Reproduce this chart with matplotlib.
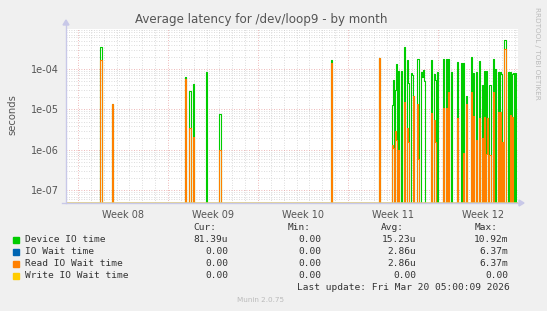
import numpy as np
import matplotlib
matplotlib.use("Agg")
import matplotlib.pyplot as plt
from matplotlib.patches import Rectangle

W, H = 547, 311

# days since Monday of week 08 (Feb 16 2026)
spike_day = [1.79, 2.75, 8.40, 8.71, 8.92, 9.96, 11.01, 19.68, 23.50,
             24.45, 24.58, 24.71, 24.83, 24.97, 25.10, 25.38, 25.61, 25.72,
             25.92, 26.02, 26.16, 26.39, 26.50, 26.68, 26.81, 26.88, 26.99,
             27.48, 27.71, 27.82, 27.95, 28.49, 28.60, 28.80, 29.01, 29.56,
             29.81, 29.94, 30.20, 30.61, 30.78, 30.93, 31.19, 31.42, 31.66,
             31.79, 31.89, 32.02, 32.28, 32.49, 32.69, 32.84, 33.00, 33.07,
             33.23, 33.47, 33.65, 33.78, 33.91, 34.02]
device_io = [3.4e-4, 1.4e-5, 6.3e-5, 2.9e-5, 4.2e-5, 8.3e-5, 7.6e-6, 1.7e-4, 1.9e-4,
             1.3e-5, 5.3e-5, 3.0e-5, 1.3e-4, 9e-5, 9e-5, 3.5e-4, 1.7e-4, 4.5e-5,
             7.8e-5, 7e-5, 2.1e-5, 1.8e-4, 1.8e-4, 8.6e-5, 6.4e-5, 9.5e-5, 5e-5,
             1.7e-4, 7.4e-5, 5.3e-5, 8.3e-5, 1.8e-4, 1.8e-4, 1.8e-4, 8.3e-5, 1.5e-4,
             1.4e-4, 1.4e-4, 2.2e-5, 2e-4, 7.8e-5, 8.6e-5, 1.6e-4, 4e-5, 9e-5,
             9e-5, 6e-6, 4e-5, 1.8e-4, 1e-4, 8.3e-5, 8.6e-5, 7.4e-5, 1.6e-6,
             5.2e-4, 8.6e-5, 8.6e-5, 7.4e-5, 8e-5, 8.1e-5]
read_wait = [1.7e-4, 1.4e-5, 5.7e-5, 3.4e-6, 2.1e-6, 0, 1e-6, 1.4e-4, 1.9e-4,
             1.3e-6, 1.1e-6, 3e-6, 1.8e-6, 1e-6, 0, 1.5e-5, 3.5e-6, 1.6e-6,
             0, 0, 2.1e-5, 1.4e-5, 6e-7, 0, 0, 0, 0,
             8e-6, 5.5e-6, 1.6e-6, 0, 1.1e-5, 1.1e-5, 2.7e-5, 0, 6e-6,
             0, 8.4e-7, 1.4e-5, 2.7e-5, 7e-6, 1.8e-6, 6e-6, 2e-6, 6.6e-6,
             8e-7, 6e-6, 7.5e-7, 2.7e-5, 0, 8.8e-6, 8.6e-6, 0, 1.6e-6,
             3.1e-4, 0, 7.3e-6, 6.6e-6, 0, 0]

week_labels = ["Week 08", "Week 09", "Week 10", "Week 11", "Week 12"]
ytick_vals = [1e-7, 1e-6, 1e-5, 1e-4]
ytick_labels = ["1e-07", "1e-06", "1e-05", "1e-04"]

series = ["Device IO time", "IO Wait time", "Read IO Wait time", "Write IO Wait time"]
colors = ["#00CC00", "#0066B3", "#FF8000", "#FFCC00"]
cur = ["81.39u", "0.00", "0.00", "0.00"]
vmin = ["0.00", "0.00", "0.00", "0.00"]
avg = ["15.23u", "2.86u", "2.86u", "0.00"]
vmax = ["10.92m", "6.37m", "6.37m", "0.00"]

x_min, x_max = -0.933, 34.22
y_min, y_max = 4.9e-8, 9.7e-4

# 2-hour bins, zero where nothing happened
t = np.arange(-0.875, 34.2, 1 / 12)
dev = np.zeros_like(t)
rd = np.zeros_like(t)
for d, a, b in zip(spike_day, device_io, read_wait):
    i = np.argmin(np.abs(t - d))
    dev[i] = a
    rd[i] = b
zero = np.zeros_like(t)

fig = plt.figure(figsize=(W / 100, H / 100), dpi=100, facecolor="#F0F0F0")
ax = fig.add_axes([66 / W, 1 - 203 / H, (518 - 66) / W, (203 - 29) / H])
ax.set_facecolor("white")
ax.set_yscale("log")
ax.set_xlim(x_min, x_max)
ax.set_ylim(y_min, y_max)

# grid: red dotted for weeks / decades, gray dotted for days / minor
for d in range(0, 35):
    c = "#E8A0A0" if d % 7 == 0 else "#D0D0D0"
    ax.axvline(d, color=c, lw=0.6, ls=(0, (1, 2)), zorder=1)
for e in range(-8, -2):
    for m in range(1, 10):
        v = m * 10.0 ** e
        if v < y_min or v > y_max:
            continue
        c = "#E8A0A0" if m == 1 else "#D0D0D0"
        ax.axhline(v, color=c, lw=0.6, ls=(0, (1, 2)), zorder=1)

floor = 1e-12
for vals, c in zip([dev, zero, rd, zero], colors):
    ax.plot(t, np.clip(vals, floor, None), color=c, lw=0.8,
            drawstyle="steps-mid", zorder=3)

ax.axhline(y_min, color="#D8C890", lw=1.2, zorder=4)

for s in ax.spines.values():
    s.set_visible(False)
ax.set_yticks(ytick_vals)
ax.set_yticklabels(ytick_labels)
ax.yaxis.set_minor_locator(matplotlib.ticker.NullLocator())
ax.set_xticks([3.5, 10.5, 17.5, 24.5, 31.5])
ax.set_xticklabels(week_labels)
ax.tick_params(axis="both", length=0, labelsize=7, colors="#555555", pad=5)

# axis lines with arrows
fig.add_artist(plt.Line2D([66 / W, 66 / W], [1 - 203 / H, 1 - 24 / H],
                          color="#C8C8E8", lw=1))
fig.add_artist(plt.Line2D([62 / W, 520 / W], [1 - 203 / H, 1 - 203 / H],
                          color="#C8C8E8", lw=1, zorder=0))
fig.patches.append(plt.Polygon([[63 / W, 1 - 25 / H], [69 / W, 1 - 25 / H], [66 / W, 1 - 20 / H]],
                               closed=True, color="#C8C8E8", transform=fig.transFigure, figure=fig))
fig.patches.append(plt.Polygon([[519 / W, 1 - 200 / H], [519 / W, 1 - 206 / H], [524 / W, 1 - 203 / H]],
                               closed=True, color="#C8C8E8", transform=fig.transFigure, figure=fig))


def px(x, y):
    return x / W, 1 - y / H


fig.text(*px(261, 19), "Average latency for /dev/loop9 - by month", ha="center", va="center",
         fontsize=8.6, color="#555555")
fig.text(*px(12, 115), "seconds", rotation=90, ha="center", va="center",
         fontsize=7.2, color="#555555")
fig.text(*px(537, 53), "RRDTOOL / TOBI OETIKER", rotation=270, ha="center", va="center",
         fontsize=5.2, color="#BBBBBB")

mono = dict(family="DejaVu Sans Mono", fontsize=6.8, color="#333333", va="center")
fig.text(*px(193.7, 227.5), "Cur:", **mono)
fig.text(*px(287.3, 227.5), "Min:", **mono)
fig.text(*px(381.0, 227.5), "Avg:", **mono)
fig.text(*px(474.7, 227.5), "Max:", **mono)
cw = 5.67
for i, name in enumerate(series):
    y = 239.5 + 12 * i
    fig.patches.append(Rectangle(px(13, y + 3), 6 / W, 6 / H, color=colors[i],
                                 transform=fig.transFigure, figure=fig))
    fig.text(*px(25, y), name, **mono)
    for col, vals in [(193.7, cur), (287.3, vmin), (381.7, avg), (474.0, vmax)]:
        s = vals[i]
        off = 0 if s[-1] in "um" else cw
        off += (5 - len(s.rstrip("um"))) * cw
        fig.text(*px(col + off, y), s, **mono)
fig.text(*px(509.5, 287.3), "Last update: Fri Mar 20 05:00:09 2026", ha="right", **mono)
fig.text(*px(261, 300), "Munin 2.0.75", ha="center", va="center", fontsize=5.2, color="#BBBBBB")

fig.savefig("out.png", dpi=100, facecolor=fig.get_facecolor())
